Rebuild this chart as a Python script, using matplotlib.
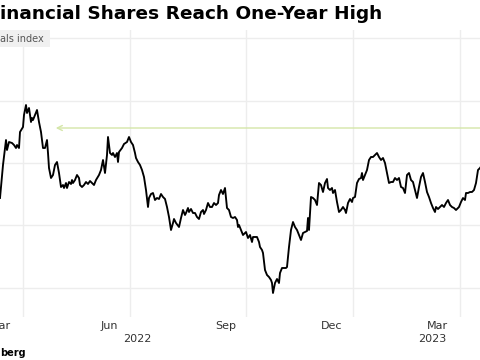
import matplotlib.pyplot as plt

# trading-session position and index level
day = [0, 3, 6, 7, 9, 12, 14, 16, 17, 19, 20, 23, 24, 26, 27, 29, 31, 32, 33, 35,
       37, 39, 41, 43, 45, 47, 48, 49, 51, 53, 55, 57, 59, 61, 63, 64, 66, 67, 69, 71,
       72, 73, 75, 77, 79, 80, 82, 84, 86, 88, 90, 92, 94, 96, 99, 101, 103, 105, 107, 108,
       110, 112, 113, 115, 117, 118, 119, 122, 124, 127, 129, 131, 133, 135, 136, 138, 140, 142, 144, 146,
       148, 149, 151, 153, 155, 157, 159, 161, 163, 165, 167, 169, 171, 173, 174, 176, 179, 181, 183, 185,
       186, 188, 189, 191, 193, 195, 197, 199, 201, 203, 204, 206, 208, 210, 212, 214, 216, 218, 219, 221,
       223, 225, 227, 229, 231, 233, 235, 237, 238, 239, 241, 243, 245, 246, 248, 250, 252, 253, 255, 257,
       259, 260, 262, 263, 265, 267, 269, 271, 272, 273, 275, 277, 279, 280, 282, 284, 286, 287, 289, 291,
       293, 295, 297, 299, 301, 303, 305, 307, 308, 309, 311, 313, 315, 317, 319, 321, 323, 325, 327, 328,
       330, 332, 333, 335, 337, 339, 341, 343, 345, 346, 348, 350, 352, 353, 355, 357, 359, 361, 362, 363,
       365, 367, 369, 371, 373, 375, 377, 379, 381, 383, 385, 387, 389, 391, 393, 395, 397, 399, 401, 403,
       405, 407, 409, 411, 413, 415, 417, 419, 421, 423, 425, 427, 429, 431, 433, 435, 436, 438, 440, 442,
       444, 446, 448, 450, 452, 454, 456, 458, 459, 461, 463, 465, 466, 468, 470, 472, 474, 476, 478, 480,
       482]
level = [102, 135, 160, 150, 158, 157, 155, 152, 155, 152, 168, 173, 185, 195, 187, 192, 178, 182, 180, 185,
         190, 178, 168, 152, 152, 160, 147, 132, 122, 125, 135, 138, 127, 113, 115, 112, 117, 112, 118, 116,
         120, 117, 120, 125, 122, 115, 113, 115, 118, 116, 119, 117, 115, 120, 125, 130, 140, 127, 145, 163,
         147, 145, 147, 143, 147, 138, 148, 152, 156, 158, 163, 158, 155, 147, 142, 138, 135, 130, 123, 110,
         93, 102, 106, 107, 100, 102, 101, 106, 103, 101, 93, 83, 70, 77, 81, 77, 73, 82, 90, 85,
         87, 92, 88, 91, 87, 87, 83, 81, 88, 90, 86, 90, 97, 93, 93, 97, 95, 97, 105, 110,
         106, 112, 92, 90, 83, 82, 83, 80, 73, 75, 70, 65, 67, 68, 62, 65, 58, 63, 63, 63,
         58, 53, 50, 47, 30, 25, 23, 20, 17, 7, 17, 21, 17, 27, 32, 32, 32, 33, 53, 70,
         78, 73, 70, 65, 60, 67, 68, 69, 82, 70, 103, 102, 100, 95, 117, 115, 108, 117, 121, 112,
         110, 112, 107, 110, 98, 88, 90, 93, 90, 87, 97, 101, 98, 102, 103, 117, 121, 122, 127, 120,
         125, 130, 140, 143, 143, 145, 147, 143, 140, 142, 137, 127, 117, 118, 118, 122, 120, 122, 113, 112,
         107, 125, 127, 120, 118, 110, 102, 113, 123, 127, 118, 108, 103, 97, 92, 88, 93, 91, 93, 95,
         93, 97, 100, 95, 93, 92, 90, 92, 93, 98, 102, 100, 107, 107, 108, 108, 110, 117, 130, 132,
         135]

prior_high = 172
grid_levels = [12, 75, 137, 199, 262]
month_starts = [23, 130, 246, 353, 460]
month_pos = [0, 109, 226, 332, 437]
month_labels = ["Mar", "Jun", "Sep", "Dec", "Mar"]
year_pos = [137, 432]
year_labels = ["2022", "2023"]

fig = plt.figure(figsize=(4.8, 3.6), dpi=100)
ax = fig.add_axes([0, 43 / 360, 1, 287 / 360])

ax.plot(day, level, color="black", lw=1.35, zorder=3)
ax.annotate("", xy=(53, prior_high), xytext=(490, prior_high),
            arrowprops=dict(arrowstyle="->", color="#d4e6a8", lw=1.0,
                            mutation_scale=9), zorder=2)

ax.set_xlim(0, 480)
ax.set_ylim(-17, 270)
ax.set_yticks(grid_levels)
ax.set_xticks(month_starts)
ax.set_xticks(month_pos, minor=True)
ax.set_xticklabels([], minor=False)
ax.set_xticklabels(month_labels, minor=True)
ax.set_yticklabels([])
ax.tick_params(which="both", length=0)
ax.tick_params(axis="x", which="minor", labelsize=8, colors="#333333", pad=3)
ax.grid(True, which="major", color="#ededed", lw=1.0)
for s in ax.spines.values():
    s.set_visible(False)

for x, t in zip(year_pos, year_labels):
    ax.text(x, -0.075, t, transform=ax.get_xaxis_transform(), ha="center",
            va="center", fontsize=8, color="#333333")

fig.text(0.001, 0.962, "inancial Shares Reach One-Year High", fontsize=13.3,
         fontweight="bold", va="center", ha="left")
fig.text(0.0, 0.893, "als index ", fontsize=7, color="#555555", va="center",
         ha="left", bbox=dict(boxstyle="square,pad=0.35", fc="#f0f0f0", ec="none"))
fig.text(0.0, 0.02, "berg", fontsize=7, fontweight="bold", va="center", ha="left")

fig.savefig("out.png", dpi=100)
